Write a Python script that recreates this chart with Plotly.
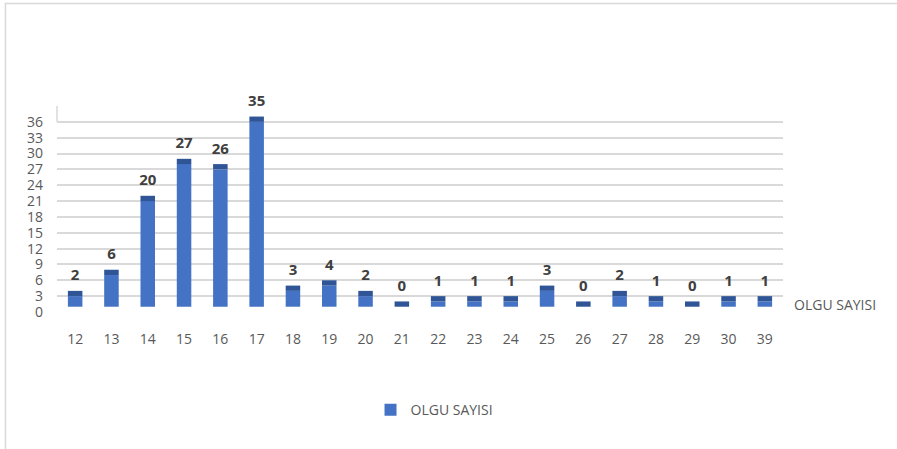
import plotly.graph_objects as go

categories = ["12", "13", "14", "15", "16", "17", "18", "19", "20", "21",
              "22", "23", "24", "25", "26", "27", "28", "29", "30", "39"]
values = [2, 6, 20, 27, 26, 35, 3, 4, 2, 0, 1, 1, 1, 3, 0, 2, 1, 0, 1, 1]
y_ticks = list(range(0, 40, 3))
y_labels = [str(t) if t <= 36 else "" for t in y_ticks]
series_name = "OLGU SAYISI"

FONT = "Open Sans, Noto Sans, sans-serif"
GREY = "#595959"

floor = 1   # 3D floor offset
cap = 1     # top face depth

fig = go.Figure()
fig.add_trace(go.Bar(
    x=categories, y=values, base=[floor] * len(values),
    marker=dict(color="#4472C4", line=dict(width=0)),
    width=0.4, name=series_name, showlegend=True,
    hoverinfo="skip",
))
fig.add_trace(go.Bar(
    x=categories, y=[cap] * len(values), base=[v + floor for v in values],
    marker=dict(color="#2F5597", line=dict(width=0)),
    width=0.4, name=series_name, showlegend=False,
    hoverinfo="skip",
))
fig.add_trace(go.Scatter(
    x=categories, y=[v + floor + cap for v in values],
    mode="markers+text", marker=dict(size=9, opacity=0),
    text=[str(v) for v in values], textposition="top center",
    textfont=dict(family=FONT, size=15, color="#404040", weight="bold"),
    showlegend=False, hoverinfo="skip", cliponaxis=False,
))

fig.update_layout(
    width=897, height=449,
    margin=dict(l=57, r=114, t=106, b=137),
    paper_bgcolor="white", plot_bgcolor="white",
    barmode="overlay",
    font=dict(family=FONT, color=GREY, size=14),
    xaxis=dict(type="category", range=[-0.5, len(categories) - 0.5],
               showgrid=False, showline=False, zeroline=False,
               ticks="", ticklabelstandoff=17,
               tickfont=dict(family=FONT, size=14, color=GREY)),
    yaxis=dict(range=[0, 39], tickvals=y_ticks, ticktext=y_labels,
               showgrid=True, gridcolor="#D9D9D9", gridwidth=1.5,
               zeroline=True, zerolinecolor="white", zerolinewidth=2,
               showline=False, ticks="", ticklabelstandoff=13,
               tickfont=dict(family=FONT, size=14, color=GREY)),
    legend=dict(orientation="h", x=0.52, xanchor="center", y=-0.477, yanchor="middle",
                font=dict(family=FONT, size=14, color=GREY),
                itemwidth=30, traceorder="normal"),
    showlegend=True,
)

# back-wall left edge above the top labelled gridline
fig.add_shape(type="line", xref="paper", yref="y", x0=0, x1=0, y0=y_ticks[-2], y1=y_ticks[-1],
              line=dict(color="#D9D9D9", width=1.5))
# outer chart border
fig.add_shape(type="rect", xref="paper", yref="paper", x0=-0.071, x1=2, y0=-2, y1=1.497,
              line=dict(color="#D9D9D9", width=1.5), fillcolor="rgba(0,0,0,0)")

fig.add_annotation(text=series_name, xref="paper", yref="y", x=1.012, y=1.5,
                   xanchor="left", yanchor="middle", showarrow=False,
                   font=dict(family=FONT, size=14, color=GREY))

fig.write_html("out.html", config={"displayModeBar": False},
               post_script="document.body.style.margin='0';")
